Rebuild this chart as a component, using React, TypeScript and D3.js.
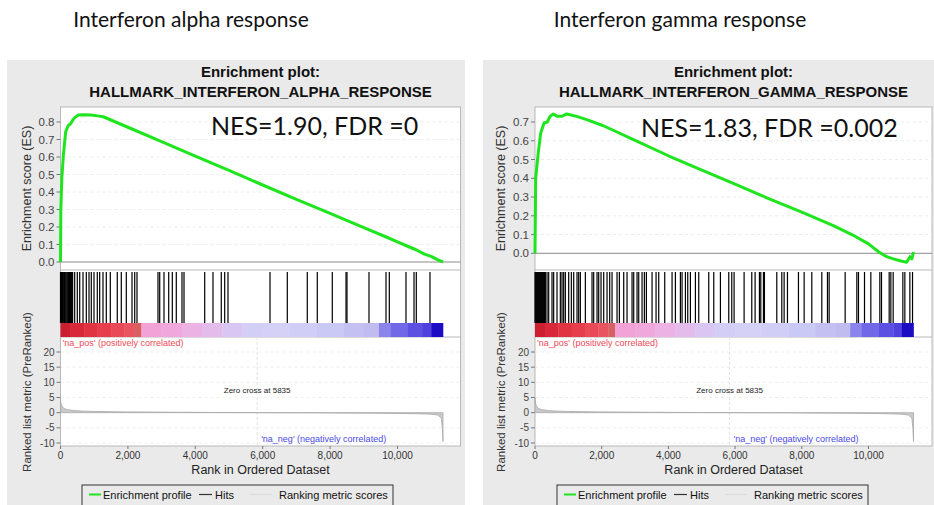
import React from 'react';
import * as d3 from 'd3';

// ranked list shared by both panels
const N_GENES = 11350;
const ZERO_CROSS = 5835;
const xTicks = [0, 2000, 4000, 6000, 8000, 10000];
const metricTicks = [-10, -5, 0, 5, 10, 15, 20];

const metricRanks = [0, 10, 40, 100, 200, 400, 700, 1000, 1500, 2000, 3000, 4000, 5000, 5835, 7000, 8000, 9000, 10000, 10600, 11000, 11200, 11300, 11330, N_GENES];
const metricValues = [5, 3.2, 2.2, 1.4, 1.0, 0.7, 0.5, 0.4, 0.32, 0.26, 0.18, 0.1, 0.04, 0, -0.05, -0.1, -0.16, -0.25, -0.35, -0.5, -0.8, -1.8, -5, -9.5];

const colorBarRanks = [0, 300, 700, 1100, 1500, 1900, 2200, 2400, 3000, 3600, 4200, 4800, 5400, 6000, 6800, 7600, 8400, 9000, 9450, 9800, 10300, 10750, 11000, N_GENES];
const colorBarColors = ['#cc1f30', '#d9283a', '#e03442', '#e63e4c', '#ea4a58', '#e85560', '#d86062', '#f2a2d6', '#f0a8dc', '#ecb2e4', '#e4bcec', '#dac6f2', '#d2cef6', '#d4d0f6', '#d0cef6', '#cac8f4', '#c4c0f2', '#c0bcf0', '#8a84ec', '#7068e6', '#5c50e2', '#5040de', '#1c0cc4'];

// interferon alpha
const alphaTicks = [0, 0.1, 0.2, 0.3, 0.4, 0.5, 0.6, 0.7, 0.8];
const alphaEsRanks = [0, 10, 40, 85, 154, 232, 300, 361, 420, 530, 700, 900, 1100, 1270, 2000, 3000, 4000, 5000, 6000, 7000, 8000, 9000, 9700, 10000, 10300, 10550, 10800, 11000, 11200, N_GENES];
const alphaEsValues = [0, 0.3, 0.48, 0.61, 0.745, 0.78, 0.79, 0.81, 0.825, 0.84, 0.842, 0.84, 0.835, 0.83, 0.77, 0.688, 0.605, 0.523, 0.44, 0.358, 0.278, 0.196, 0.14, 0.115, 0.09, 0.07, 0.045, 0.032, 0.012, 0];
const alphaHits = [0, 15, 30, 45, 60, 80, 100, 120, 140, 165, 190, 215, 240, 270, 300, 330, 360, 421, 499, 570, 668, 766, 846, 914, 994, 1092, 1163, 1261, 1359, 1478, 1685, 1804, 1953, 2122, 2202, 2270, 2893, 2944, 3071, 3211, 3318, 3436, 3605, 3665, 4279, 4525, 4771, 4872, 4970, 6217, 6730, 7323, 7620, 8065, 8472, 8501, 9154, 9659, 9757, 10252, 10490, 10558, 10964];

// interferon gamma
const gammaTicks = [0, 0.1, 0.2, 0.3, 0.4, 0.5, 0.6, 0.7];
const gammaEsRanks = [0, 20, 100, 170, 270, 370, 450, 550, 670, 800, 950, 1250, 1550, 2050, 3050, 4000, 4950, 6000, 6950, 8000, 8945, 9500, 10000, 10300, 10545, 10745, 10945, 11145, 11245, 11300, N_GENES];
const gammaEsValues = [0, 0.4, 0.54, 0.64, 0.695, 0.7, 0.73, 0.743, 0.73, 0.73, 0.743, 0.73, 0.713, 0.68, 0.598, 0.52, 0.448, 0.369, 0.296, 0.22, 0.148, 0.1, 0.05, 0.008, -0.018, -0.03, -0.04, -0.048, -0.018, -0.03, 0.007];
const gammaHits = [0, 20, 40, 60, 80, 100, 120, 140, 160, 180, 200, 220, 240, 260, 285, 310, 360, 410, 510, 560, 660, 760, 810, 860, 910, 1010, 1090, 1160, 1260, 1310, 1360, 1510, 1710, 1760, 1860, 1910, 1980, 2060, 2160, 2240, 2310, 2460, 2530, 2660, 2760, 2910, 2960, 3060, 3110, 3210, 3280, 3340, 3510, 3630, 3710, 3890, 4110, 4210, 4360, 4410, 4510, 4580, 4660, 4810, 4910, 5210, 5360, 5560, 5810, 5900, 5970, 6270, 6500, 6600, 6730, 6770, 6850, 6880, 7250, 7400, 7470, 7570, 7900, 8070, 8300, 8600, 8770, 8820, 9300, 9650, 9700, 9880, 10070, 10340, 10390, 10620, 10670, 10740, 11030, 11090, 11240, 11320];

const GSEA_FONT = '"Liberation Sans", Arial, sans-serif';
const SLIDE_FONT = 'Lato, "Open Sans", sans-serif';

type PanelProps = {
  heading: string;
  headingX: number;
  geneSet: string;
  nes: string;
  bgX: number;
  bgW: number;
  x0: number;
  x10k: number;
  right: number;
  es0: number;
  esTopTick: number;
  nesX: number;
  nesY: number;
  legendX: number;
  esTicks: number[];
  esRanks: number[];
  esValues: number[];
  hits: number[];
};

const Panel: React.FC<PanelProps> = (p) => {
  const top = 107;
  const esBottom = 270;
  const hitsBottom = 337;
  const barTop = 323;
  const bottom = 446;
  const left = p.x0;
  const cx = (left + p.right) / 2;

  const x = d3.scaleLinear().domain([0, 10000]).range([p.x0, p.x10k]);
  const maxTick = p.esTicks[p.esTicks.length - 1];
  const yEs = d3.scaleLinear().domain([0, maxTick]).range([p.es0, p.esTopTick]);
  const yMetric = d3.scaleLinear().domain([-10, 20]).range([443, 352]);

  const esPath = d3
    .line<number>()
    .x((_, i) => x(p.esRanks[i]))
    .y(d => yEs(d))(p.esValues) || '';

  const metricPath = d3
    .area<number>()
    .x((_, i) => x(metricRanks[i]))
    .y0(yMetric(0))
    .y1(d => yMetric(d))(metricValues) || '';

  const zx = x(ZERO_CROSS);

  return (
    <g>
      <rect x={p.bgX} y={60} width={p.bgW} height={445} fill="#eaeaea" />
      <text x={p.headingX} y={27} textAnchor="middle" fontFamily={SLIDE_FONT} fontSize={21} fill="#111">
        {p.heading}
      </text>
      <text x={cx} y={77} textAnchor="middle" fontFamily={GSEA_FONT} fontWeight="bold" fontSize={15} fill="#111">
        Enrichment plot:
      </text>
      <text x={cx} y={97} textAnchor="middle" fontFamily={GSEA_FONT} fontWeight="bold" fontSize={15} fill="#111">
        {p.geneSet}
      </text>

      <rect x={left} y={top} width={p.right - left} height={bottom - top} fill="#fff" stroke="#b8b8b8" strokeWidth={1} />

      {/* ES grid + axis */}
      {p.esTicks.map(t => (
        <g key={`es${t}`}>
          {t > 0 && (
            <line x1={left} x2={p.right} y1={yEs(t)} y2={yEs(t)} stroke="#ececec" strokeDasharray="3,3" />
          )}
          <line x1={left - 4} x2={left} y1={yEs(t)} y2={yEs(t)} stroke="#777" />
          <text x={left - 6} y={yEs(t) + 4} textAnchor="end" fontFamily={GSEA_FONT} fontSize={11.5} fill="#444">
            {t.toFixed(1)}
          </text>
        </g>
      ))}
      <line x1={left} x2={p.right} y1={yEs(0)} y2={yEs(0)} stroke="#8a8a8a" strokeWidth={1} />
      <line x1={left} x2={p.right} y1={esBottom} y2={esBottom} stroke="#b8b8b8" />
      <line x1={left} x2={p.right} y1={hitsBottom} y2={hitsBottom} stroke="#b8b8b8" />
      <text
        transform={`translate(${left - 30},${(top + esBottom) / 2}) rotate(-90)`}
        textAnchor="middle"
        fontFamily={GSEA_FONT}
        fontSize={12.5}
        fill="#333"
      >
        Enrichment score (ES)
      </text>

      <path d={esPath} fill="none" stroke="#1fe51f" strokeWidth={3} strokeLinejoin="round" />

      <text x={p.nesX} y={p.nesY} fontFamily={SLIDE_FONT} fontSize={25} fill="#111">
        {p.nes}
      </text>

      {/* hits */}
      {p.hits.map((h, i) => (
        <line key={`h${i}`} x1={x(h)} x2={x(h)} y1={272} y2={barTop} stroke="#000" strokeWidth={1.2} />
      ))}

      {/* ranked list colour bar */}
      {colorBarColors.map((c, i) => (
        <rect
          key={`c${i}`}
          x={x(colorBarRanks[i])}
          y={barTop}
          width={x(colorBarRanks[i + 1]) - x(colorBarRanks[i]) + 0.3}
          height={hitsBottom - barTop}
          fill={c}
        />
      ))}

      {/* ranked metric */}
      {metricTicks.map(t => (
        <g key={`m${t}`}>
          {t !== 0 && (
            <line x1={left} x2={p.right} y1={yMetric(t)} y2={yMetric(t)} stroke="#eeeeee" strokeDasharray="3,3" />
          )}
          <line x1={left - 4} x2={left} y1={yMetric(t)} y2={yMetric(t)} stroke="#777" />
          <text x={left - 6} y={yMetric(t) + 3.5} textAnchor="end" fontFamily={GSEA_FONT} fontSize={10} fill="#444">
            {t}
          </text>
        </g>
      ))}
      <line x1={zx} x2={zx} y1={hitsBottom} y2={bottom} stroke="#e2e2e2" strokeDasharray="3,2" />
      <path d={metricPath} fill="#c9c9c9" stroke="#a8a8a8" strokeWidth={0.8} />
      <text x={left + 2} y={346} fontFamily={GSEA_FONT} fontSize={9} fill="#f04a58">
        'na_pos' (positively correlated)
      </text>
      <text x={zx} y={393} textAnchor="middle" fontFamily={GSEA_FONT} fontSize={8} fill="#222">
        Zero cross at {ZERO_CROSS}
      </text>
      <text x={zx + 4} y={442} fontFamily={GSEA_FONT} fontSize={9} fill="#4a4ae6">
        'na_neg' (negatively correlated)
      </text>
      <text
        transform={`translate(${left - 30},${392}) rotate(-90)`}
        textAnchor="middle"
        fontFamily={GSEA_FONT}
        fontSize={11.5}
        fill="#333"
      >
        Ranked list metric (PreRanked)
      </text>

      {/* x axis */}
      {xTicks.map(t => (
        <g key={`x${t}`}>
          <line x1={x(t)} x2={x(t)} y1={bottom} y2={bottom + 3} stroke="#777" />
          <text x={x(t)} y={459} textAnchor="middle" fontFamily={GSEA_FONT} fontSize={10} fill="#333">
            {d3.format(',')(t)}
          </text>
        </g>
      ))}
      <text x={cx} y={474} textAnchor="middle" fontFamily={GSEA_FONT} fontSize={12.5} fill="#222">
        Rank in Ordered Dataset
      </text>

      {/* legend */}
      <g transform={`translate(${p.legendX},485)`}>
        <rect x={0} y={0} width={311} height={24} fill="#eaeaea" stroke="#333" strokeWidth={1} />
        <line x1={7} x2={19} y1={9.5} y2={9.5} stroke="#1fe51f" strokeWidth={2} />
        <text x={21} y={13.5} fontFamily={GSEA_FONT} fontSize={11} fill="#111">
          Enrichment profile
        </text>
        <line x1={117} x2={130} y1={9.5} y2={9.5} stroke="#333" strokeWidth={1.2} />
        <text x={133} y={13.5} fontFamily={GSEA_FONT} fontSize={11} fill="#111">
          Hits
        </text>
        <line x1={168} x2={190} y1={9.5} y2={9.5} stroke="#dcdcdc" strokeWidth={1.2} />
        <text x={197} y={13.5} fontFamily={GSEA_FONT} fontSize={11} fill="#111">
          Ranking metric scores
        </text>
      </g>
    </g>
  );
};

export default function App() {
  return (
    <svg width={934} height={505} style={{ position: 'absolute', left: 0, top: 0, background: '#fff' }}>
      <Panel
        heading="Interferon alpha response"
        headingX={191}
        geneSet="HALLMARK_INTERFERON_ALPHA_RESPONSE"
        nes="NES=1.90, FDR =0"
        bgX={7}
        bgW={458}
        x0={60.5}
        x10k={397.5}
        right={460.5}
        es0={262}
        esTopTick={122}
        nesX={211}
        nesY={135}
        legendX={82}
        esTicks={alphaTicks}
        esRanks={alphaEsRanks}
        esValues={alphaEsValues}
        hits={alphaHits}
      />
      <Panel
        heading="Interferon gamma response"
        headingX={680}
        geneSet="HALLMARK_INTERFERON_GAMMA_RESPONSE"
        nes="NES=1.83, FDR =0.002"
        bgX={483}
        bgW={451}
        x0={535}
        x10k={868.5}
        right={932}
        es0={253.3}
        esTopTick={122}
        nesX={641}
        nesY={137}
        legendX={557}
        esTicks={gammaTicks}
        esRanks={gammaEsRanks}
        esValues={gammaEsValues}
        hits={gammaHits}
      />
    </svg>
  );
}
